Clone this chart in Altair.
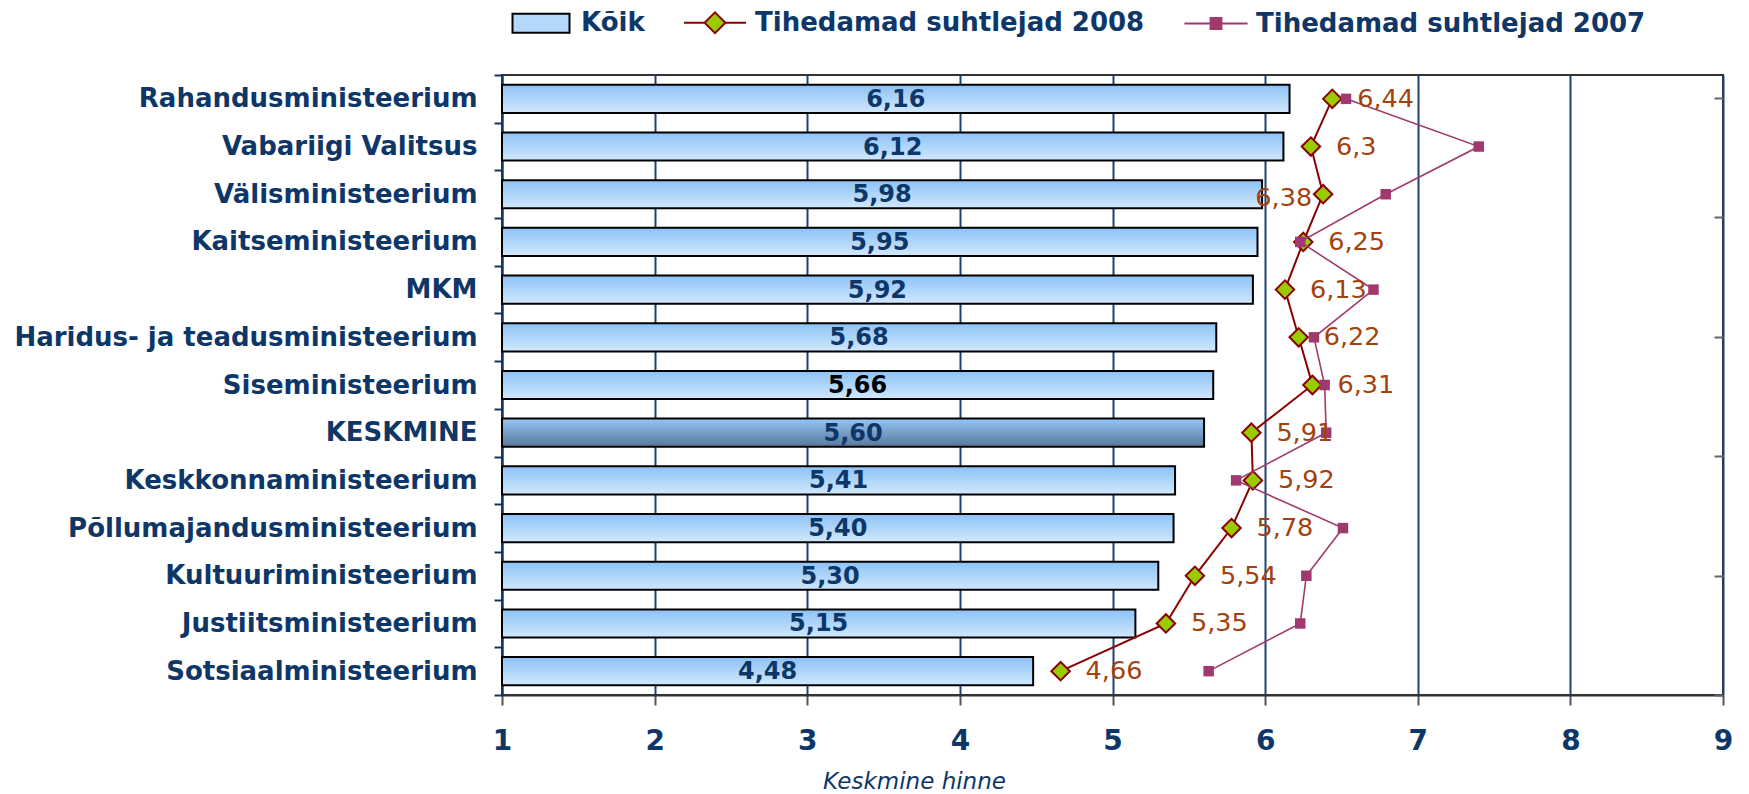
import altair as alt
import pandas as pd

# ---------------- data ----------------
categories = [
    "Rahandusministeerium",
    "Vabariigi Valitsus",
    "Välisministeerium",
    "Kaitseministeerium",
    "MKM",
    "Haridus- ja teadusministeerium",
    "Siseministeerium",
    "KESKMINE",
    "Keskkonnaministeerium",
    "Põllumajandusministeerium",
    "Kultuuriministeerium",
    "Justiitsministeerium",
    "Sotsiaalministeerium",
]
koik = [6.16, 6.12, 5.98, 5.95, 5.92, 5.68, 5.66, 5.60, 5.41, 5.40, 5.30, 5.15, 4.48]
tihedamad_2008 = [6.44, 6.30, 6.38, 6.25, 6.13, 6.22, 6.31, 5.91, 5.92, 5.78, 5.54, 5.35, 4.66]
tihedamad_2007 = [6.53, 7.40, 6.79, 6.23, 6.71, 6.32, 6.39, 6.40, 5.81, 6.51, 6.27, 6.23, 5.63]
series_names = ["Kõik", "Tihedamad suhtlejad 2008", "Tihedamad suhtlejad 2007"]
x_ticks = [1, 2, 3, 4, 5, 6, 7, 8, 9]
axis_title = "Keskmine hinne"

# ---------------- styles ----------------
FONT = "DejaVu Sans"
NAVY = "#0e3768"
GRID = "#1d4373"
LINE08 = "#8b0000"
FILL08 = "#99cc00"
COL07 = "#a03a6e"
LBL08 = "#a3420e"

df = pd.DataFrame({
    "cat": categories,
    "koik": koik,
    "t2008": tihedamad_2008,
    "t2007": tihedamad_2007,
    "idx": list(range(len(categories))),
})
df["koik_lbl"] = [f"{v:.2f}".replace(".", ",") for v in koik]
df["t2008_lbl"] = [f"{v:g}".replace(".", ",") for v in tihedamad_2008]

x_scale = alt.Scale(domain=[1, 9], nice=False, zero=False)
x_axis = alt.Axis(
    values=x_ticks, format="d", grid=True, gridColor=GRID, gridWidth=2,
    tickColor="#555555", tickSize=10, tickWidth=2,
    domainColor="#333333", domainWidth=2,
    labelFont=FONT, labelFontSize=28, labelFontWeight="bold", labelColor=NAVY,
    labelPadding=22, labelFlush=False,
    title=axis_title, titleFont=FONT, titleFontSize=23, titleFontStyle="italic",
    titleFontWeight="normal", titleColor=NAVY, titleX=412, titleY=93,
    titleAlign="center", titleBaseline="alphabetic",
)
y_scale = alt.Scale(domain=categories, paddingInner=0, paddingOuter=0)
y_axis = alt.Axis(
    title=None, labelFont=FONT, labelFontSize=26, labelFontWeight="bold",
    labelColor=NAVY, labelPadding=17, labelLimit=800,
    tickSize=8, tickColor=NAVY, tickWidth=2, tickBand="extent",
    domainColor=NAVY, domainWidth=2,
)

base = alt.Chart(df)
X = lambda f: alt.X(f, type="quantitative", scale=x_scale, axis=x_axis)
Y = alt.Y("cat:N", scale=y_scale, axis=y_axis, sort=categories)

grad_bar = alt.Gradient(
    gradient="linear",
    stops=[alt.GradientStop(color="#8cc2f6", offset=0),
           alt.GradientStop(color="#d2e8fd", offset=1)],
    x1=0, x2=0, y1=0, y2=1,
)
grad_avg = alt.Gradient(
    gradient="linear",
    stops=[alt.GradientStop(color="#94c6f5", offset=0),
           alt.GradientStop(color="#58789a", offset=1)],
    x1=0, x2=0, y1=0, y2=1,
)
BAR_H = {"band": 0.59}

bars = base.transform_filter(alt.datum.cat != "KESKMINE").mark_bar(
    fill=grad_bar, stroke="black", strokeWidth=2, height=BAR_H
).encode(x=X("koik"), x2=alt.datum(1), y=Y)

bar_avg = base.transform_filter(alt.datum.cat == "KESKMINE").mark_bar(
    fill=grad_avg, stroke="black", strokeWidth=2, height=BAR_H
).encode(x=X("koik"), x2=alt.datum(1), y=Y)

bar_text = base.transform_calculate(mid="(1 + datum.koik) / 2").mark_text(
    font=FONT, fontSize=24, fontWeight="bold", baseline="middle", align="center", dy=1
).encode(
    x=X("mid"), y=Y, text="koik_lbl:N",
    color=alt.condition(alt.datum.cat == "Siseministeerium", alt.value("black"), alt.value(NAVY)),
)

line08 = base.mark_line(color=LINE08, strokeWidth=2).encode(
    x=X("t2008"), y=Y, order="idx:Q")
pts08 = base.mark_point(shape="diamond", filled=True, fill=FILL08, stroke=LINE08,
                        strokeWidth=2, size=340, opacity=1).encode(x=X("t2008"), y=Y)

line07 = base.mark_line(color=COL07, strokeWidth=1.6).encode(
    x=X("t2007"), y=Y, order="idx:Q")
pts07 = base.mark_square(color=COL07, size=110, opacity=1).encode(x=X("t2007"), y=Y)

lbl08 = base.transform_filter(alt.datum.cat != "Välisministeerium").mark_text(
    font=FONT, fontSize=25.5, color=LBL08, align="left", baseline="middle", dx=25
).encode(x=X("t2008"), y=Y, text="t2008_lbl:N")
lbl08_left = base.transform_filter(alt.datum.cat == "Välisministeerium").mark_text(
    font=FONT, fontSize=25.5, color=LBL08, align="right", baseline="middle", dx=-11, dy=4
).encode(x=X("t2008"), y=Y, text="t2008_lbl:N")

# legend carrier (invisible marks, visible legend)
path_koik = "M-1.425,-0.475H1.425V0.475H-1.425Z"
path_08 = "M-1.55,0H-0.52M0.52,0H1.55M0,-0.52L0.52,0L0,0.52L-0.52,0Z"
path_07 = "M-1.58,0H1.58M-0.27,-0.27H0.27V0.27H-0.27Z"
leg = alt.Legend(
    orient="none", legendX=18, legendY=-73.5, direction="horizontal", title=None,
    symbolSize=1600, symbolStrokeWidth=2, symbolOpacity=1,
    labelFont=FONT, labelFontSize=26, labelFontWeight="bold", labelColor=NAVY,
    labelOffset=19, columnPadding=35, padding=0, labelLimit=1000,
)
leg_df = pd.DataFrame({"series": series_names})
legend_layer = alt.Chart(leg_df).mark_point(opacity=0, filled=True).encode(
    shape=alt.Shape("series:N", scale=alt.Scale(domain=series_names, range=[path_koik, path_08, path_07]), legend=leg),
    fill=alt.Fill("series:N", scale=alt.Scale(domain=series_names, range=["#b3d8fb", FILL08, COL07]), legend=leg),
    stroke=alt.Stroke("series:N", scale=alt.Scale(domain=series_names, range=["#000000", LINE08, COL07]), legend=leg),
)

main = alt.layer(bars, bar_avg, bar_text, line08, pts08, line07, pts07, lbl08, lbl08_left, legend_layer)

# secondary (right) axis ticks
right_df = pd.DataFrame({"v": [0]})
right = alt.Chart(right_df).mark_point(opacity=0).encode(
    y=alt.Y("v:Q", scale=alt.Scale(domain=[0, 5.19], nice=False, zero=False),
            axis=alt.Axis(orient="right", values=[0, 1, 2, 3, 4, 5], labels=False, domain=False,
                          tickSize=9, tickColor="#666666", tickWidth=2, offset=-9, title=None, grid=False))
)

chart = alt.layer(main, right).resolve_scale(y="independent").properties(
    width=1221, height=620,
    autosize=alt.AutoSizeParams(type="none"),
    padding={"left": 494, "top": 67, "right": 18, "bottom": 97},
    background="white",
).configure_view(stroke="#333333", strokeWidth=2)

chart.save("out.html", embed_options={"renderer": "svg", "actions": False})
